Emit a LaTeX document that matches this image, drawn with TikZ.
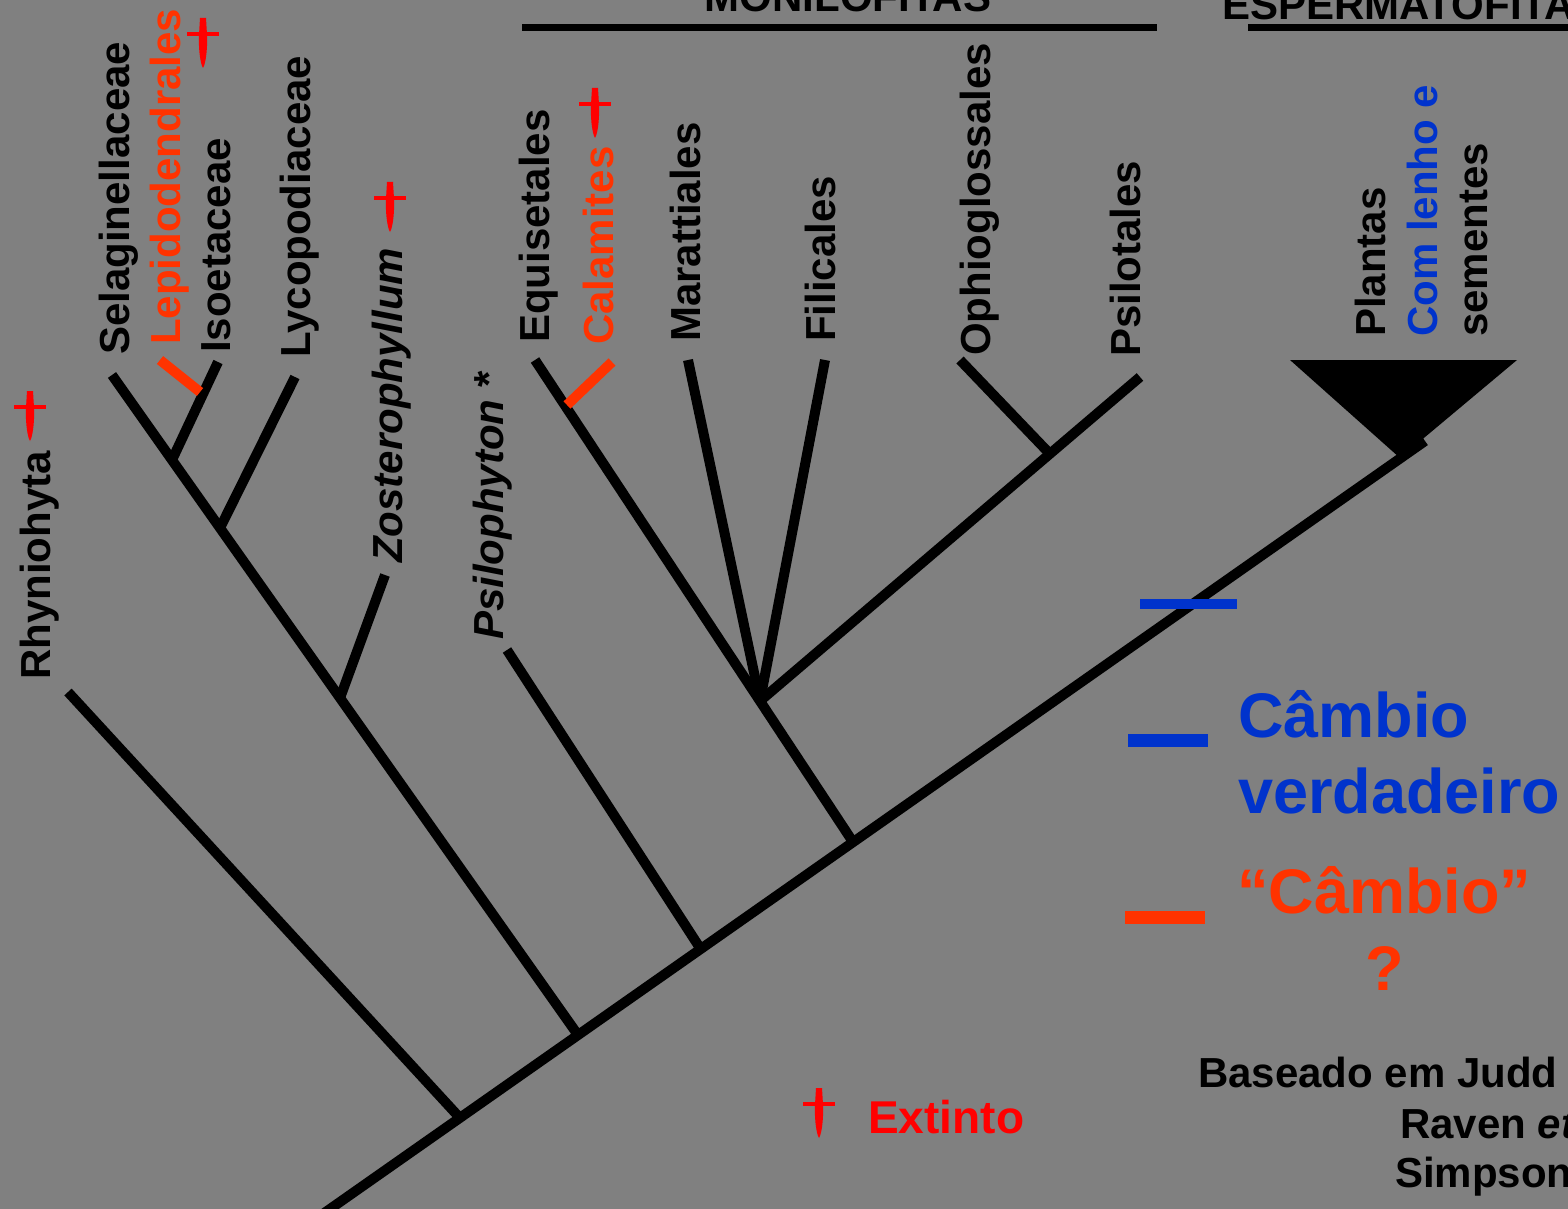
\documentclass[tikz,border=0pt]{standalone}
\usepackage{fontspec}
\setmainfont{Liberation Sans}
\definecolor{bgg}{HTML}{808080}
\definecolor{cblue}{HTML}{0033CC}
\definecolor{corange}{HTML}{FF3300}
\definecolor{cred}{HTML}{FF0000}
\begin{document}
\begin{tikzpicture}[x=1pt,y=-1pt,
  br/.style={line width=10pt, black},
  omark/.style={line width=10pt, corange},
  bmark/.style={line width=10pt, cblue},
  lab/.style={rotate=90, anchor=base west, inner sep=0pt, font=\fontsize{42}{50}\selectfont\bfseries},
  hdr/.style={inner sep=0pt, font=\fontsize{42}{50}\selectfont\bfseries},
  big/.style={inner sep=0pt, anchor=base west, font=\fontsize{63}{76}\selectfont\bfseries},
  dag/.pic={
    \fill[cred] (-16,14) rectangle (16,18);
    \fill[cred] (-3,0) -- (3,0) -- (4.2,20) .. controls (4.2,34) and (2.5,46) .. (0,50)
      .. controls (-2.5,46) and (-4.2,34) .. (-4.2,20) -- cycle;
  }]
\useasboundingbox (0,0) rectangle (1568,1209);
\clip (0,0) rectangle (1568,1209);
\fill[bgg] (0,0) rectangle (1568,1209);

% coordinates
\coordinate (root) at (320,1216);
\coordinate (n1) at (460,1118);
\coordinate (n2) at (578,1035);
\coordinate (n3) at (700,948);
\coordinate (n4) at (853,842);
\coordinate (top) at (1425,441);
\coordinate (tRhy) at (68,692);
\coordinate (tSel) at (112,375);
\coordinate (jIso) at (172,460);
\coordinate (tIso) at (218,362);
\coordinate (jLyc) at (220,528);
\coordinate (tLyc) at (295,377);
\coordinate (jZos) at (340,698);
\coordinate (tZos) at (385,575);
\coordinate (tPsy) at (507,650);
\coordinate (tEqu) at (535,360);
\coordinate (jM) at (760,701);
\coordinate (tMar) at (688,360);
\coordinate (tFil) at (825,360);
\coordinate (jOP) at (1050,454);
\coordinate (tOph) at (960,360);
\coordinate (tPst) at (1140,377);

% triangle
\fill[black] (1290,360) -- (1517,360) -- (1400,458) -- cycle;

% branches
\draw[br] (root) -- (top);
\draw[br] (n1) -- (tRhy);
\draw[br] (n2) -- (tSel);
\draw[br] (jIso) -- (tIso);
\draw[br] (jLyc) -- (tLyc);
\draw[br] (jZos) -- (tZos);
\draw[br] (n3) -- (tPsy);
\draw[br] (n4) -- (tEqu);
\draw[br] (jM) -- (tMar);
\draw[br] (jM) -- (tFil);
\draw[br] (jM) -- (tPst);
\draw[br] (jOP) -- (tOph);

% character marks
\draw[omark] (160,360) -- (200,392);
\draw[omark] (567,405) -- (612,362);
\draw[bmark] (1140,604) -- (1237,604);

% headers
\node[hdr, anchor=base] (hmon) at (848,12) {MONILOFITAS};
\node[hdr, anchor=base west] (hesp) at (1222,20) {ESPERMATOFITA};
\draw[line width=7pt] (522,28) -- (1157,28);
\draw[line width=7pt] (1248,28) -- (1580,28);

% taxon labels
\node[lab] (lRhy) at (50,680) {Rhyniohyta};
\node[lab] (lSel) at (129,355) {Selaginellaceae};
\node[lab, text=corange] (lLep) at (180,345) {Lepidodendrales};
\node[lab] (lIso) at (230,353) {Isoetaceae};
\node[lab] (lLyc) at (310,358) {Lycopodiaceae};
\node[lab] (lZos) at (402,563) {\itshape Zosterophyllum};
\node[lab] (lPsy) at (503,640) {\itshape Psilophyton\upshape{} *};
\node[lab] (lEqu) at (549,343) {Equisetales};
\node[lab, text=corange] (lCal) at (613,345) {Calamites};
\node[lab] (lMar) at (700,342) {Marattiales};
\node[lab] (lFil) at (835,342) {Filicales};
\node[lab] (lOph) at (990,356) {Ophioglossales};
\node[lab] (lPst) at (1140,357) {Psilotales};
\node[lab] (lPla) at (1385,337) {Plantas};
\node[lab, text=cblue] (lCom) at (1437,337) {Com lenho e};
\node[lab] (lSem) at (1487,337) {sementes};

% daggers
\pic at (30,391) {dag};
\pic at (203,18) {dag};
\pic at (390,182) {dag};
\pic at (595,88) {dag};
\pic at (819,1088) {dag};

% legend
\draw[line width=13pt, cblue] (1128,740) -- (1208,740);
\draw[line width=13pt, corange] (1125,917) -- (1205,917);
\node[big, text=cblue] (lc1) at (1238,737) {Câmbio};
\node[big, text=cblue] (lc2) at (1238,813) {verdadeiro};
\node[big, text=corange] (lc3) at (1237,913) {“Câmbio”};
\node[big, text=corange, anchor=base] (lc4) at (1385,990) {?};
\node[inner sep=0pt, anchor=base west, text=cred, font=\fontsize{46}{50}\selectfont\bfseries] (lext) at (868,1133) {Extinto};

% source
\node[hdr, anchor=base west] (s1) at (1198,1087) {Baseado em Judd};
\node[hdr, anchor=base west] (s2) at (1400,1138) {Raven \textit{et}};
\node[hdr, anchor=base west] (s3) at (1395,1187) {Simpson};
\end{tikzpicture}
\end{document}
